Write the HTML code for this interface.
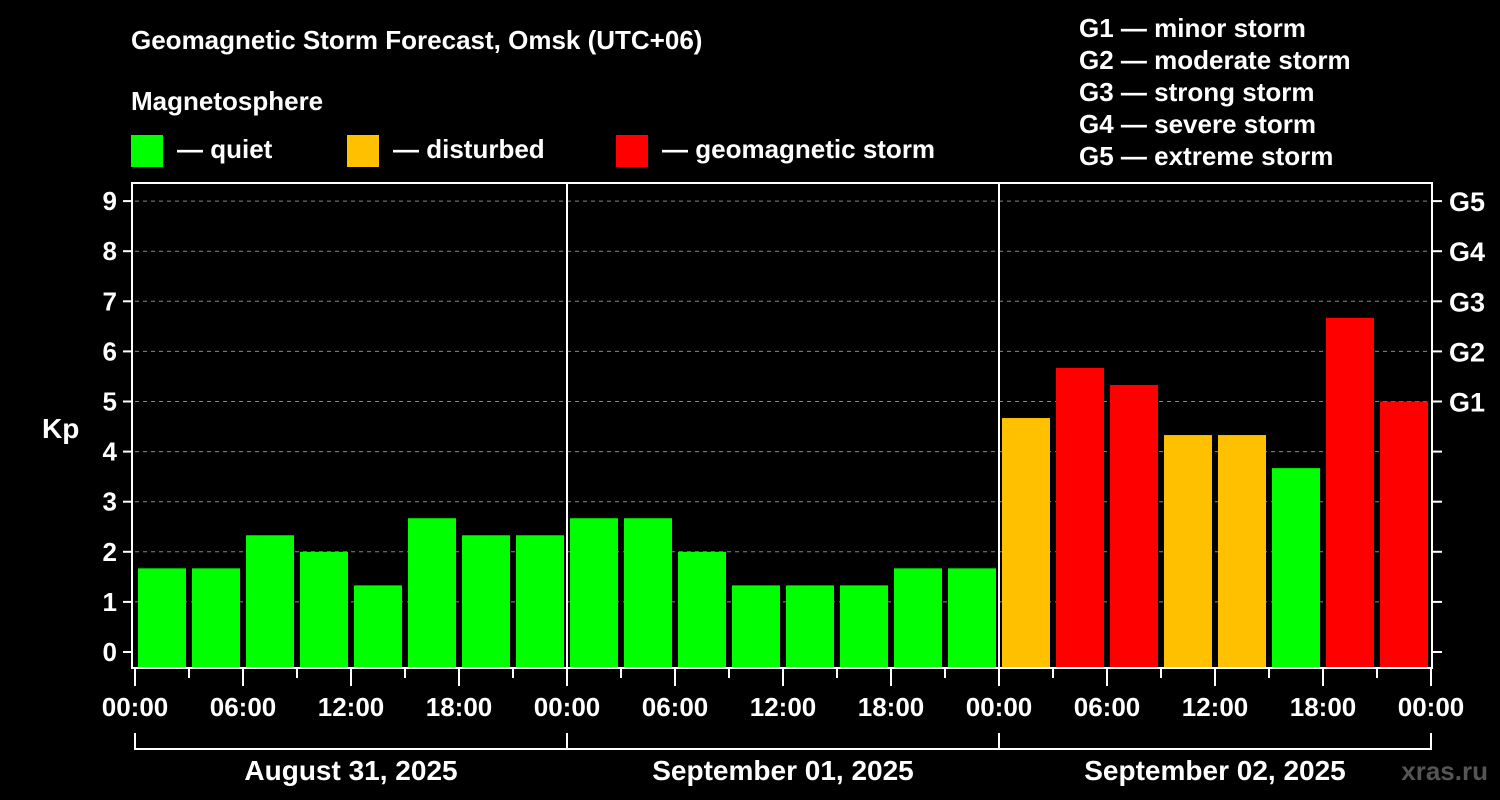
<!DOCTYPE html>
<html><head><meta charset="utf-8"><style>
html,body{margin:0;padding:0;background:#000;}
svg{display:block;font-family:"Liberation Sans",Arial,sans-serif;font-weight:bold;}
</style></head><body>
<svg id="chart" width="1500" height="800" viewBox="0 0 1500 800" xmlns="http://www.w3.org/2000/svg">
<rect width="1500" height="800" fill="#000"/>
<text x="131" y="49" fill="#fff" font-size="26">Geomagnetic Storm Forecast, Omsk (UTC+06)</text>
<text x="131" y="110" fill="#fff" font-size="26">Magnetosphere</text>
<g><rect x="131" y="135" width="32" height="32" fill="#00ff00"/><text x="177" y="158" fill="#fff" font-size="26">— quiet</text></g>
<g><rect x="347" y="135" width="32" height="32" fill="#ffc000"/><text x="393" y="158" fill="#fff" font-size="26">— disturbed</text></g>
<g><rect x="616" y="135" width="32" height="32" fill="#ff0000"/><text x="662" y="158" fill="#fff" font-size="26">— geomagnetic storm</text></g>
<g fill="#fff" font-size="26">
<text x="1079" y="37">G1 — minor storm</text>
<text x="1079" y="69">G2 — moderate storm</text>
<text x="1079" y="101">G3 — strong storm</text>
<text x="1079" y="133">G4 — severe storm</text>
<text x="1079" y="165">G5 — extreme storm</text>
</g>
<text x="42" y="438" fill="#fff" font-size="28">Kp</text>
<text x="1488" y="780" fill="#555" font-size="26" text-anchor="end">xras.ru</text>
<g id="grid"></g><g id="bars"></g><g id="axes"></g>
</svg>
<script>
const days = ["August 31, 2025","September 01, 2025","September 02, 2025"];
const kpValues = [1.67,1.67,2.33,2.0,1.33,2.67,2.33,2.33, 2.67,2.67,2.0,1.33,1.33,1.33,1.67,1.67, 4.67,5.67,5.33,4.33,4.33,3.67,6.67,5.0];
const yTicks = [0,1,2,3,4,5,6,7,8,9];
const gLabels = ["G1","G2","G3","G4","G5"];
const gLevels = [5,6,7,8,9];
const hourLabels = ["00:00","06:00","12:00","18:00"];

const NS="http://www.w3.org/2000/svg";
const X0=135, DAYW=432, Y0=652, PERK=50.1, TOP=183, BOT=668, RIGHT=X0+DAYW*days.length;
const xScale = h => X0 + h*DAYW/24;
const yScale = v => Y0 - v*PERK;
function mk(tag, attrs, parent){const e=document.createElementNS(NS,tag);for(const k in attrs)e.setAttribute(k,attrs[k]);parent.appendChild(e);return e;}
const grid=document.getElementById('grid'), bars=document.getElementById('bars'), axes=document.getElementById('axes');
function color(v){return v>=5?"#ff0000":(v>=4?"#ffc000":"#00ff00");}

yTicks.forEach(t=>{
  if(t>0){const l=mk('line',{x1:X0,x2:RIGHT,y1:yScale(t),y2:yScale(t),stroke:"#888","stroke-dasharray":"4,4","stroke-width":1},grid);
  
  }
  const tk=mk('line',{x1:123,x2:132,y1:yScale(t),y2:yScale(t),stroke:"#fff","stroke-width":2},axes);
  
  
  const tx=mk('text',{x:117,y:yScale(t)+9,fill:"#fff","font-size":26,"text-anchor":"end"},axes);
  tx.textContent=t;
  
  
  const rt=mk('line',{x1:1433,x2:1442,y1:yScale(t),y2:yScale(t),stroke:"#fff","stroke-width":2},axes);
  
  
});
gLabels.forEach((g,i)=>{
  const tx=mk('text',{x:1449,y:yScale(gLevels[i])+10,fill:"#fff","font-size":27},axes);
  tx.textContent=g;
  
  
});
kpValues.forEach((v,i)=>{
  const x=xScale(i*3)+3, w=DAYW/8-6;
  const r=mk('rect',{x:x,y:yScale(v),width:w,height:BOT-yScale(v),fill:color(v)},bars);
  
  
});
const frame=mk('rect',{x:132,y:TOP,width:RIGHT-132+1,height:BOT-TOP,fill:"none",stroke:"#fff","stroke-width":2},axes);


days.forEach((d,di)=>{
  if(di>0){const s=mk('line',{x1:xScale(di*24),x2:xScale(di*24),y1:TOP,y2:BOT,stroke:"#fff","stroke-width":2},axes);
  
  }
  const x1=xScale(di*24), x2=xScale((di+1)*24);
  const br=mk('path',{d:`M${x1},733 V749 H${x2} V733`,fill:"none",stroke:"#fff","stroke-width":2},axes);
  
  
  const dl=mk('text',{x:(x1+x2)/2,y:780,fill:"#fff","font-size":28,"text-anchor":"middle"},axes);
  dl.textContent=d;
  
  
});
for(let h=0;h<=24*days.length;h+=3){
  const major=h%6===0;
  const t=mk('line',{x1:xScale(h),x2:xScale(h),y1:BOT,y2:major?686:678,stroke:"#fff","stroke-width":2},axes);
  
  
  if(major){
    const tx=mk('text',{x:xScale(h),y:716,fill:"#fff","font-size":26,"text-anchor":"middle"},axes);
    tx.textContent=hourLabels[(h%24)/6];
    
    
  }
}
</script>
</body></html>
